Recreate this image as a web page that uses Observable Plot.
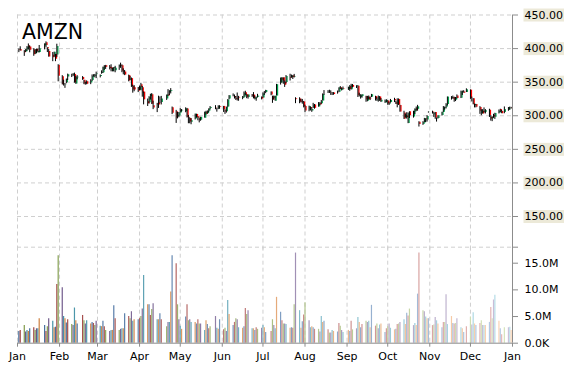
<!DOCTYPE html>
<html><head><meta charset="utf-8">
<script src="https://cdn.jsdelivr.net/npm/d3@7"></script>
<script src="https://cdn.jsdelivr.net/npm/@observablehq/plot@0.6"></script>
<style>
body{margin:0;background:#fff;}
#chart{position:relative;width:570px;height:370px;font-family:"DejaVu Sans",sans-serif;}
#chart svg{position:absolute;left:0;}
#title{position:absolute;left:22px;top:21.7px;font-size:20.5px;line-height:20.5px;color:#000;z-index:5;}
</style></head><body>
<div id="chart"><div id="title">AMZN</div></div>
<script>
const title = "AMZN";
const holidays = ["2014-01-01","2014-01-20","2014-02-17","2014-04-18","2014-05-26","2014-07-04","2014-09-01","2014-11-27","2014-12-25"];
const monthLabels = ["Jan","Feb","Mar","Apr","May","Jun","Jul","Aug","Sep","Oct","Nov","Dec"];
const priceTicks = [150,200,250,300,350,400,450];
const volumeTicks = [0,5,10,15];

const open = [
398.8,398.3,395.9,395.0,398.5,403.7,402.5,398.0,392.1,398.9,393.7,394.3,403.8,408.6,401.3,395.6,390.1,387.4,391.2,390.4,375.0,
358.0,347.9,346.0,349.3,357.7,361.6,360.0,361.3,347.3,356.7,357.0,352.7,347.6,350.8,348.6,352.5,359.4,358.8,361.5,
358.6,362.9,364.0,373.4,374.6,372.4,371.5,366.0,370.2,366.9,372.1,374.6,374.6,366.1,365.1,360.1,353.1,355.3,343.4,341.7,341.7,
338.1,346.0,341.8,335.2,321.0,319.4,328.5,331.4,314.8,318.0,319.0,323.5,319.8,325.1,331.2,334.8,336.1,311.9,305.8,299.4,299.8,
304.1,307.4,306.1,310.2,297.6,296.0,290.5,295.0,302.0,298.5,294.9,293.3,296.4,305.3,303.1,306.6,310.9,311.2,310.2,310.1,313.5,
313.9,307.5,305.9,313.1,325.0,329.9,328.5,325.2,325.7,327.4,326.0,327.5,334.3,331.4,327.0,330.9,330.8,324.5,326.6,327.6,327.5,
326.5,332.2,334.8,335.4,328.3,326.2,321.6,329.3,348.6,356.0,356.4,349.7,349.6,357.1,357.1,359.1,357.7,325.2,324.9,321.5,322.3,320.5,
313.7,308.2,312.2,307.2,311.2,316.1,313.0,318.1,317.9,322.0,333.1,334.8,335.9,334.0,333.3,334.0,334.3,334.9,341.8,338.0,340.0,
338.6,343.6,338.8,345.2,343.4,344.0,331.0,327.3,328.6,328.7,321.8,327.7,325.4,327.6,328.5,322.4,324.2,328.0,320.3,319.0,321.2,
322.0,317.1,319.6,324.1,319.4,316.5,324.1,315.4,304.2,296.5,299.8,288.4,305.9,298.1,305.6,310.9,309.6,290.3,286.9,289.5,295.2,293.7,305.2,
306.3,301.5,304.8,296.3,296.1,300.4,305.2,310.7,312.6,316.8,326.0,326.7,326.9,323.2,329.3,326.0,335.5,335.5,334.7,
338.1,326.4,325.5,315.5,316.8,312.3,303.1,306.7,304.4,305.4,308.3,297.9,295.6,300.0,297.7,303.9,309.3,306.4,305.0,308.5,310.2,311.4];

const high = [
399.4,402.7,397.0,398.5,403.0,406.9,403.8,399.8,398.6,399.3,399.3,404.6,407.1,410.0,401.3,398.6,394.1,394.7,391.4,406.5,376.0,
359.7,353.0,348.0,354.6,362.0,361.8,362.7,363.5,358.6,359.7,358.3,352.7,350.0,352.0,353.6,360.8,361.1,361.5,365.0,
360.7,366.9,372.4,374.7,375.0,374.7,375.9,370.8,371.8,373.6,375.5,378.3,375.8,369.9,367.4,360.5,358.5,356.2,345.5,344.9,342.1,
344.1,348.3,343.6,335.5,324.9,328.4,332.0,333.0,321.7,318.5,329.1,328.1,328.8,330.9,338.9,337.3,340.4,313.0,308.0,305.0,304.9,
310.5,309.3,311.8,310.9,300.5,296.9,295.6,302.5,302.2,298.5,296.4,297.8,305.4,306.7,307.2,310.3,313.7,315.0,311.1,314.9,315.0,
313.9,308.8,312.9,324.0,330.0,332.5,330.9,328.6,333.9,328.9,328.6,335.4,336.5,331.8,330.8,331.6,334.5,329.3,327.6,331.9,328.0,
334.0,336.0,337.9,335.5,329.2,329.4,329.1,346.7,356.2,356.8,356.4,351.7,359.8,361.8,360.6,360.0,361.6,326.8,326.8,324.6,324.3,321.3,
315.8,314.3,313.0,311.6,318.5,316.8,319.6,319.7,322.8,332.5,337.5,337.4,338.0,337.1,334.5,334.4,336.8,341.6,343.5,341.1,342.8,
342.5,344.9,346.8,346.6,344.7,344.6,333.6,331.1,331.4,329.0,328.9,329.4,327.8,331.8,329.0,326.9,329.4,328.5,325.7,323.4,323.9,
322.2,320.3,324.3,326.0,321.5,325.2,325.1,315.7,306.7,302.6,304.5,304.2,306.0,306.7,310.2,313.0,315.5,291.1,291.2,296.1,295.3,300.2,305.8,
306.8,304.9,304.9,296.7,299.9,305.2,313.7,313.0,318.0,328.0,328.5,329.3,327.6,327.2,331.0,336.7,336.8,337.3,340.1,
338.6,327.8,325.5,317.4,316.9,313.6,309.0,309.2,311.7,309.2,309.7,300.4,298.3,302.2,303.7,308.6,309.7,307.9,313.1,312.2,312.9,312.5];

const low = [
394.0,396.2,388.4,394.3,396.0,397.7,393.8,388.5,391.3,392.5,393.7,393.7,398.1,401.1,394.1,387.2,380.5,387.1,380.5,386.9,350.5,
345.9,344.2,340.8,347.6,352.5,356.9,358.3,348.5,346.8,353.5,352.7,346.3,345.5,346.1,346.3,351.1,357.5,356.5,355.3,
356.3,361.8,362.9,367.5,369.0,368.2,365.4,365.3,365.2,364.0,367.6,370.6,364.1,360.9,359.7,350.5,352.3,342.2,333.6,335.7,334.5,
337.4,337.2,327.6,316.2,313.8,317.5,323.3,316.7,309.1,304.7,310.9,318.3,316.1,322.8,328.5,330.0,332.5,301.7,288.6,295.3,297.0,
304.0,305.6,304.5,296.7,288.1,288.1,286.6,293.7,296.5,292.5,289.4,291.8,296.4,300.9,302.2,304.4,308.9,309.0,305.4,309.1,309.7,
304.9,302.0,303.9,312.1,323.8,328.2,324.9,322.8,321.9,321.6,323.9,326.6,329.8,325.4,324.8,327.3,325.1,323.6,321.6,326.7,323.6,
326.2,330.3,332.9,329.8,318.5,323.1,321.6,329.3,345.7,348.5,346.9,342.2,347.5,351.7,356.0,354.0,356.3,318.0,317.9,319.0,317.2,311.7,
304.6,305.9,307.1,305.1,311.0,309.7,312.7,314.8,316.9,321.7,330.2,333.1,333.2,330.3,330.1,330.5,332.2,334.4,339.0,336.9,338.6,
337.7,336.4,338.3,341.5,340.6,327.2,328.0,324.8,326.1,320.1,320.8,323.6,322.6,327.0,321.9,321.5,320.2,321.4,319.7,318.5,319.4,
315.6,315.3,318.6,319.6,316.8,311.8,315.3,305.3,294.5,296.5,295.1,288.2,296.0,296.5,301.8,306.7,306.9,283.2,285.7,289.5,289.8,290.6,303.9,
302.5,297.5,294.7,290.6,295.0,299.5,304.9,308.4,310.1,314.6,323.3,324.5,320.1,321.1,325.1,325.6,330.2,333.6,334.6,
324.4,320.5,316.3,311.7,311.7,302.1,300.0,302.4,304.1,302.7,297.5,292.0,291.2,296.3,294.6,302.7,304.6,303.0,303.0,306.7,308.1,310.2];

const close = [
397.97,396.44,393.63,398.03,401.92,401.01,397.66,390.98,397.54,395.87,395.80,399.61,407.05,404.54,399.87,387.60,386.28,394.43,384.20,403.01,358.69,
346.15,347.95,346.45,354.59,361.08,360.87,361.79,349.25,357.20,357.35,353.65,347.38,349.80,346.76,351.78,358.32,359.80,360.13,362.10,
359.78,363.90,372.37,372.16,372.06,370.53,368.82,370.64,371.51,370.80,375.04,373.74,366.44,364.38,360.62,351.85,354.71,343.41,338.47,338.29,336.37,
342.99,341.96,333.62,323.68,317.76,327.07,331.81,317.11,311.73,315.91,316.08,323.68,324.91,330.87,329.32,337.15,337.15,303.83,296.58,300.38,304.13,
307.89,308.01,310.05,297.38,296.90,290.60,292.70,302.40,297.60,296.30,292.80,297.70,305.38,302.14,306.37,310.00,312.24,310.82,310.16,313.78,312.55,
308.84,305.74,312.44,323.50,329.67,330.16,326.78,324.31,325.16,326.47,327.60,333.54,331.55,327.58,330.72,328.50,325.72,326.35,327.44,329.20,324.78,
332.39,332.04,337.49,330.87,323.52,328.43,329.00,346.23,355.91,352.82,351.01,345.49,358.59,355.78,358.59,356.82,358.61,324.01,320.41,320.00,322.51,312.99,
307.06,313.65,310.88,309.48,315.53,311.05,317.45,315.87,321.30,331.34,333.21,334.95,335.78,333.40,333.58,331.59,334.02,341.52,339.86,340.02,339.04,
342.38,339.00,345.20,342.38,344.40,329.75,331.58,329.80,331.19,323.89,327.76,324.00,325.00,331.32,324.50,323.63,328.21,321.93,323.21,321.82,322.44,
317.46,318.41,322.74,322.20,316.98,322.70,315.80,305.60,294.93,300.60,297.34,302.86,300.10,306.40,309.80,307.42,313.32,287.06,289.97,295.59,294.12,299.07,305.46,
305.72,302.81,296.52,296.64,299.86,305.11,312.01,311.51,316.48,327.82,327.00,324.82,323.00,326.54,325.60,335.64,335.04,333.57,338.64,
326.00,326.31,316.50,316.93,312.63,306.64,307.35,302.80,307.08,307.36,300.46,295.03,297.73,298.42,303.35,306.54,306.29,303.03,309.09,312.04,310.30,310.35];

// volume, millions of shares
const volume = [
2.2,2.4,3.3,2.1,2.4,2.2,2.7,2.9,2.4,2.7,2.7,4.6,3.3,2.2,3.1,4.6,4.1,2.9,3.0,11.0,16.4,
10.4,5.0,4.6,3.8,4.4,3.5,3.3,6.6,4.2,3.6,5.2,4.2,3.6,4.2,3.6,3.9,3.7,3.3,4.1,
3.2,3.1,4.1,3.1,2.4,2.2,2.4,2.4,7.0,4.6,2.4,2.6,2.7,2.7,5.5,5.0,4.6,5.9,4.1,4.4,4.4,
4.6,5.0,6.4,12.7,7.2,7.2,5.2,6.3,7.4,4.4,4.4,5.5,4.4,3.1,3.9,3.9,9.6,16.4,14.9,7.2,4.4,
3.2,2.6,4.9,7.2,4.2,4.4,3.9,3.9,3.6,4.4,3.6,3.6,2.4,4.2,3.5,2.7,3.1,5.0,2.8,2.6,4.4,
2.5,2.8,2.2,8.0,5.4,3.3,3.9,4.6,4.4,2.9,2.8,3.1,6.5,5.4,6.1,2.7,2.7,2.4,2.9,2.6,2.8,
3.3,2.9,2.0,2.2,4.4,3.3,2.7,8.6,5.8,4.2,3.6,3.6,3.5,2.8,2.9,2.8,7.2,16.9,6.1,2.8,4.0,5.3,
7.6,4.2,2.9,3.1,2.9,2.6,2.6,2.1,5.0,3.9,4.1,2.5,1.9,1.9,2.4,2.2,2.1,3.7,3.2,2.4,2.0,
2.4,2.2,4.1,2.5,2.7,4.8,3.9,2.9,3.5,4.1,3.9,4.1,2.9,7.1,3.2,3.6,2.7,3.4,3.6,2.0,2.7,
3.1,3.6,2.8,2.5,2.6,3.5,3.6,3.9,4.4,3.5,5.6,5.1,6.4,3.3,3.7,3.3,9.2,16.9,6.1,5.9,4.9,4.6,4.6,
3.3,3.4,4.8,4.2,3.6,2.9,3.9,3.9,9.1,3.5,5.0,3.7,3.6,3.7,4.6,2.9,2.7,2.0,3.1,
4.9,3.4,5.7,3.6,3.3,3.7,4.2,3.3,3.3,3.3,3.9,6.7,4.6,8.1,9.0,4.1,2.7,1.6,2.9,2.9,3.0,2.4];

// ---- build table ----
const fmtDay = d3.utcFormat("%Y-%m-%d");
const hol = new Set(holidays);
const x0 = new Date(Date.UTC(2014,0,1)), x1 = new Date(Date.UTC(2015,0,1));
const dates = d3.utcDays(x0, x1).filter(d => d.getUTCDay() !== 0 && d.getUTCDay() !== 6 && !hol.has(fmtDay(d)));
const rows = dates.map((date, i) => ({date, i, open: open[i], high: high[i], low: low[i], close: close[i], volume: volume[i]}));
const months = d3.utcMonths(x0, new Date(+x1 + 1));

const palette = ["#4F81BD","#C0504D","#9BBB59","#8064A2","#4BACC6","#F79646"];
const n = rows.length;
const volColor = d => {
  const base = palette[d.i % palette.length];
  const dark = d3.rgb(base).darker(0.55);
  const light = d3.interpolateRgb(base, "#ffffff")(0.6);
  return d3.interpolateRgb(dark, light)(d.i / (n - 1));
};

const grid = {stroke: "#cfcfcf", strokeDasharray: "4,3", strokeWidth: 1};
const axisGray = "#8c8c8c";
const common = {
  width: 570, marginLeft: 17, marginRight: 58,
  x: {type: "utc", domain: [x0, x1], axis: null, label: null},
  style: {fontFamily: "DejaVu Sans, sans-serif", fontSize: "11px", background: "transparent", color: "#000"}
};

const pricePlot = Plot.plot({
  ...common,
  height: 250, marginTop: 14.5, marginBottom: 0.4,
  y: {domain: [100, 450], axis: null, label: null},
  marks: [
    Plot.ruleY(priceTicks, grid),
    Plot.ruleX(months.slice(0, 12), grid),
    Plot.ruleX(rows, {x: "date", y1: "open", y2: "close", dx: 1, stroke: d => d.close >= d.open ? "#00a650" : "#ff0000", strokeWidth: 1.3}),
    Plot.ruleX(rows, {x: "date", y1: "low", y2: "high", stroke: "#000", strokeWidth: 1}),
    Plot.ruleX([x1], {stroke: axisGray}),
    Plot.axisY(priceTicks, {anchor: "right", label: null, tickSize: 5, tickPadding: 7, stroke: axisGray, tickFormat: d3.format(".2f")})
  ]
});

const volPlot = Plot.plot({
  ...common,
  height: 130, marginTop: 6.7, marginBottom: 27.3,
  y: {domain: [0, 18], axis: null, label: null},
  marks: [
    Plot.ruleY([18], grid),
    Plot.ruleX(months.slice(0, 12), grid),
    Plot.ruleX(rows, {x: "date", y1: 0, y2: "volume", stroke: volColor, strokeWidth: 1.2}),
    Plot.ruleX([x1], {stroke: axisGray}),
    Plot.ruleY([0], {stroke: axisGray}),
    Plot.axisY(volumeTicks, {anchor: "right", label: null, tickSize: 5, tickPadding: 7, stroke: axisGray, tickFormat: v => v === 0 ? "0.0K" : v.toFixed(1) + "M"}),
    Plot.axisY([18], {anchor: "right", label: null, tickSize: 5, stroke: axisGray, tickFormat: () => ""}),
    Plot.axisX(months, {anchor: "bottom", label: null, tickSize: 4, tickPadding: 5, stroke: axisGray, tickFormat: d => monthLabels[d.getUTCMonth()]})
  ]
});

const chart = document.getElementById("chart");
pricePlot.style.top = "0px";
volPlot.style.top = "240px";
chart.appendChild(volPlot);
chart.appendChild(pricePlot);
document.getElementById("title").textContent = title;

// beige background behind price tick labels
pricePlot.querySelectorAll('g[aria-label="y-axis tick label"] text').forEach(t => {
  const b = t.getBBox();
  const r = document.createElementNS("http://www.w3.org/2000/svg", "rect");
  r.setAttribute("x", b.x - 1); r.setAttribute("y", b.y);
  r.setAttribute("width", b.width + 2); r.setAttribute("height", b.height);
  r.setAttribute("fill", "#ECE9D8");
  if (t.getAttribute("transform")) r.setAttribute("transform", t.getAttribute("transform"));
  t.parentNode.insertBefore(r, t);
});
</script>
</body></html>
